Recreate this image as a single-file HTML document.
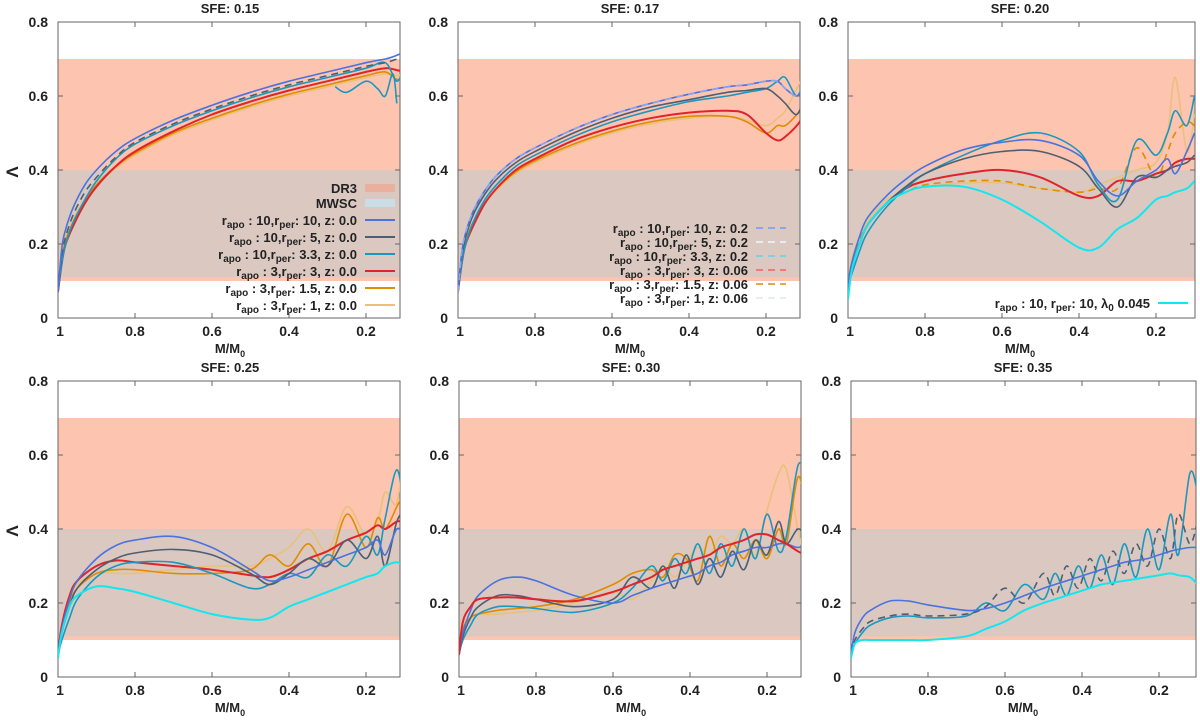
<!DOCTYPE html>
<html><head><meta charset="utf-8">
<style>
body{margin:0;background:#fff;}
svg{display:block;font-family:"Liberation Sans",sans-serif;}
</style></head>
<body>
<svg id="c" width="1200" height="724" xmlns="http://www.w3.org/2000/svg"></svg>
<script>
const titles=["SFE: 0.15","SFE: 0.17","SFE: 0.20","SFE: 0.25","SFE: 0.30","SFE: 0.35"];
const yTicks=[0,0.2,0.4,0.6,0.8];
const yTickLabels=["0","0.2","0.4","0.6","0.8"];
const xTicks=[1,0.8,0.6,0.4,0.2];
const xTickLabels=["1","0.8","0.6","0.4","0.2"];
const bandDR3=[0.1,0.7];
const bandMWSC=[0.11,0.4];
const colors={blue:"#4a72e0",slate:"#4d5f72",teal:"#1a98c0",red:"#e0242a",orange:"#e08c00",lorange:"#e9c17a",cyan:"#12e6ee",dblue:"#8aa6f0",dteal:"#7fd0e6",dred:"#f07a7a",dorange:"#e8a64a",dlight:"#e6eef4"};
// panel 1 (SFE 0.15)
const xs1=[1,0.99,0.98,0.96,0.93,0.9,0.85,0.8,0.7,0.6,0.5,0.4,0.3,0.2,0.15,0.12,0.1];
const p1_blue=[0.07,0.19,0.24,0.30,0.36,0.40,0.45,0.485,0.535,0.575,0.61,0.64,0.665,0.69,0.70,0.71,0.72];
const p1_slate=[0.07,0.17,0.22,0.28,0.34,0.38,0.435,0.475,0.525,0.565,0.60,0.63,0.655,0.68,0.69,0.70,0.71];
const p1_teal=[0.07,0.15,0.20,0.26,0.32,0.37,0.43,0.47,0.52,0.56,0.595,0.625,0.65,0.675,0.69,0.64,0.68];
const p1_red=[0.07,0.15,0.20,0.25,0.31,0.355,0.41,0.45,0.505,0.55,0.585,0.615,0.64,0.665,0.675,0.67,0.665];
const p1_orange=[0.07,0.16,0.21,0.26,0.315,0.36,0.41,0.445,0.50,0.54,0.575,0.605,0.63,0.655,0.665,0.645,0.65];
const p1_lorange=[0.07,0.17,0.22,0.27,0.32,0.36,0.405,0.44,0.495,0.535,0.57,0.60,0.625,0.65,0.66,0.655,0.66];
const p1_tealx=[0.28,0.25,0.2,0.17,0.15,0.13,0.12];
const p1_tealy=[0.625,0.61,0.64,0.62,0.60,0.66,0.58];
// panel 2 (SFE 0.17)
const xs2=[1,0.99,0.98,0.96,0.93,0.9,0.85,0.8,0.7,0.6,0.5,0.4,0.3,0.25,0.2,0.17,0.15,0.12,0.1];
const p2_blue=[0.07,0.18,0.23,0.29,0.345,0.385,0.43,0.46,0.51,0.55,0.58,0.605,0.625,0.63,0.64,0.64,0.62,0.60,0.63];
const p2_slate=[0.07,0.17,0.22,0.28,0.335,0.375,0.42,0.45,0.50,0.54,0.57,0.59,0.61,0.615,0.62,0.60,0.58,0.55,0.60];
const p2_teal=[0.07,0.15,0.20,0.26,0.32,0.36,0.41,0.44,0.49,0.53,0.56,0.585,0.60,0.61,0.62,0.64,0.65,0.60,0.65];
const p2_red=[0.07,0.15,0.20,0.25,0.31,0.35,0.40,0.43,0.48,0.515,0.54,0.555,0.56,0.55,0.50,0.48,0.49,0.52,0.55];
const p2_orange=[0.07,0.16,0.21,0.26,0.31,0.35,0.395,0.425,0.47,0.505,0.53,0.545,0.545,0.53,0.50,0.52,0.52,0.55,0.58];
const p2_lorange=[0.07,0.16,0.21,0.26,0.31,0.345,0.39,0.42,0.465,0.50,0.525,0.54,0.545,0.535,0.52,0.54,0.56,0.62,0.66];
// panel 3 (SFE 0.20)
const xs3=[1,0.99,0.97,0.95,0.9,0.85,0.8,0.7,0.6,0.5,0.4,0.35,0.3,0.25,0.2,0.17,0.15,0.12,0.1];
const p3_blue=[0.09,0.15,0.22,0.27,0.33,0.375,0.41,0.455,0.475,0.48,0.44,0.37,0.33,0.37,0.40,0.43,0.39,0.45,0.50];
const p3_slate=[0.09,0.14,0.20,0.25,0.31,0.355,0.39,0.43,0.45,0.45,0.41,0.35,0.30,0.38,0.38,0.40,0.41,0.42,0.44];
const p3_teal=[0.09,0.12,0.18,0.23,0.30,0.35,0.39,0.44,0.48,0.50,0.45,0.36,0.32,0.48,0.44,0.50,0.56,0.52,0.60];
const p3_red=[0.09,0.14,0.20,0.25,0.31,0.35,0.37,0.39,0.40,0.38,0.33,0.33,0.37,0.37,0.39,0.40,0.42,0.43,0.43];
const p3_orange=[0.09,0.15,0.21,0.25,0.31,0.34,0.36,0.37,0.37,0.35,0.34,0.35,0.35,0.46,0.38,0.45,0.50,0.53,0.52];
const p3_lorange=[0.09,0.16,0.22,0.26,0.32,0.34,0.355,0.365,0.365,0.35,0.34,0.36,0.38,0.40,0.42,0.50,0.65,0.45,0.55];
const p3_cyan=[0.05,0.13,0.20,0.25,0.31,0.34,0.355,0.355,0.32,0.26,0.19,0.19,0.24,0.27,0.32,0.33,0.34,0.35,0.37];
// panel 4 (SFE 0.25)
const xs4=[1,0.99,0.97,0.95,0.9,0.85,0.8,0.7,0.6,0.5,0.45,0.4,0.35,0.3,0.25,0.2,0.17,0.15,0.12,0.1];
const p4_blue=[0.06,0.13,0.21,0.26,0.32,0.355,0.37,0.38,0.35,0.29,0.26,0.27,0.29,0.31,0.33,0.35,0.37,0.33,0.40,0.38];
const p4_slate=[0.06,0.12,0.19,0.24,0.29,0.32,0.335,0.345,0.33,0.28,0.25,0.28,0.32,0.30,0.37,0.32,0.38,0.30,0.42,0.45];
const p4_teal=[0.06,0.10,0.16,0.21,0.27,0.30,0.31,0.31,0.28,0.24,0.25,0.28,0.27,0.33,0.30,0.38,0.33,0.43,0.56,0.45];
const p4_red=[0.06,0.14,0.22,0.26,0.30,0.315,0.31,0.30,0.29,0.275,0.27,0.29,0.32,0.34,0.37,0.39,0.41,0.40,0.42,0.42];
const p4_orange=[0.06,0.13,0.20,0.24,0.28,0.29,0.29,0.28,0.28,0.29,0.33,0.30,0.36,0.30,0.44,0.35,0.43,0.40,0.46,0.50];
const p4_lorange=[0.06,0.14,0.21,0.25,0.28,0.28,0.28,0.29,0.30,0.30,0.32,0.35,0.40,0.34,0.46,0.38,0.42,0.50,0.47,0.63];
const p4_cyan=[0.05,0.12,0.19,0.22,0.245,0.24,0.23,0.20,0.17,0.155,0.16,0.19,0.21,0.23,0.25,0.27,0.28,0.30,0.31,0.30];
// panel 5 (SFE 0.30)
const xs5=[1,0.99,0.97,0.95,0.9,0.85,0.8,0.7,0.6,0.55,0.5,0.47,0.44,0.41,0.38,0.35,0.32,0.29,0.26,0.23,0.2,0.17,0.15,0.12,0.1];
const p5_blue=[0.06,0.12,0.18,0.22,0.26,0.27,0.26,0.22,0.20,0.22,0.24,0.25,0.26,0.27,0.28,0.30,0.31,0.33,0.34,0.35,0.35,0.36,0.36,0.35,0.36];
const p5_slate=[0.06,0.11,0.16,0.19,0.22,0.22,0.21,0.19,0.21,0.27,0.24,0.30,0.24,0.33,0.25,0.32,0.27,0.34,0.29,0.37,0.33,0.42,0.36,0.40,0.38];
const p5_teal=[0.06,0.10,0.14,0.17,0.19,0.19,0.185,0.175,0.20,0.24,0.30,0.26,0.32,0.28,0.36,0.28,0.36,0.30,0.40,0.32,0.44,0.34,0.38,0.57,0.55];
const p5_red=[0.06,0.15,0.19,0.21,0.215,0.215,0.21,0.205,0.23,0.25,0.27,0.29,0.30,0.31,0.32,0.33,0.35,0.36,0.37,0.385,0.385,0.37,0.36,0.34,0.33];
const p5_orange=[0.06,0.13,0.16,0.17,0.18,0.185,0.19,0.21,0.25,0.28,0.29,0.27,0.33,0.32,0.26,0.38,0.30,0.36,0.32,0.37,0.32,0.40,0.36,0.54,0.46];
const p5_lorange=[0.06,0.14,0.16,0.17,0.17,0.175,0.18,0.20,0.23,0.21,0.26,0.30,0.27,0.31,0.35,0.33,0.38,0.36,0.40,0.33,0.45,0.55,0.56,0.40,0.32];
// panel 6 (SFE 0.35)
const xs6=[1,0.99,0.97,0.95,0.9,0.85,0.8,0.7,0.65,0.6,0.55,0.5,0.47,0.44,0.41,0.38,0.35,0.32,0.29,0.26,0.23,0.2,0.17,0.15,0.12,0.1];
const p6_blue=[0.06,0.12,0.16,0.18,0.205,0.205,0.195,0.18,0.185,0.20,0.22,0.24,0.25,0.26,0.27,0.28,0.29,0.30,0.31,0.315,0.32,0.33,0.34,0.345,0.35,0.35];
const p6_slate=[0.06,0.10,0.13,0.15,0.165,0.17,0.165,0.17,0.19,0.24,0.20,0.28,0.22,0.30,0.24,0.32,0.26,0.34,0.28,0.36,0.30,0.40,0.32,0.44,0.36,0.42];
const p6_teal=[0.06,0.09,0.12,0.14,0.16,0.165,0.16,0.165,0.20,0.18,0.25,0.21,0.28,0.22,0.30,0.24,0.33,0.25,0.36,0.27,0.40,0.29,0.44,0.33,0.55,0.50];
const p6_cyan=[0.05,0.09,0.10,0.10,0.10,0.10,0.10,0.11,0.13,0.15,0.18,0.20,0.21,0.22,0.23,0.24,0.25,0.255,0.26,0.265,0.27,0.275,0.28,0.275,0.27,0.25];

const panels=[
 {left:58,top:22,w:342,series:[[xs1,p1_lorange,"lorange",0],[xs1,p1_orange,"orange",0],[xs1,p1_red,"red",0],[xs1,p1_teal,"teal",0],[xs1,p1_slate,"slate",1],[xs1,p1_blue,"blue",0],[p1_tealx,p1_tealy,"teal",0]]},
 {left:458,top:22,w:342,series:[[xs2,p2_lorange,"lorange",0],[xs2,p2_orange,"orange",0],[xs2,p2_red,"red",0],[xs2,p2_teal,"teal",0],[xs2,p2_slate,"slate",0],[xs2,p2_blue,"blue",0],[xs2,p2_blue,"dblue",1]]},
 {left:848,top:22,w:347,series:[[xs3,p3_lorange,"lorange",0],[xs3,p3_orange,"orange",1],[xs3,p3_red,"red",0],[xs3,p3_teal,"teal",0],[xs3,p3_slate,"slate",0],[xs3,p3_blue,"blue",0],[xs3,p3_cyan,"cyan",0]]},
 {left:58,top:381,w:342,series:[[xs4,p4_lorange,"lorange",0],[xs4,p4_orange,"orange",0],[xs4,p4_red,"red",0],[xs4,p4_teal,"teal",0],[xs4,p4_slate,"slate",0],[xs4,p4_blue,"blue",0],[xs4,p4_cyan,"cyan",0]]},
 {left:459,top:381,w:342,series:[[xs5,p5_lorange,"lorange",0],[xs5,p5_orange,"orange",0],[xs5,p5_teal,"teal",0],[xs5,p5_slate,"slate",0],[xs5,p5_blue,"blue",0],[xs5,p5_red,"red",0]]},
 {left:851,top:381,w:345,series:[[xs6,p6_teal,"teal",0],[xs6,p6_slate,"slate",1],[xs6,p6_blue,"blue",0],[xs6,p6_cyan,"cyan",0]]}
];
const NS="http://www.w3.org/2000/svg";
const svg=document.getElementById("c");
function mk(tag,attrs,parent){const e=document.createElementNS(NS,tag);for(const k in attrs)e.setAttribute(k,attrs[k]);(parent||svg).appendChild(e);return e;}
function smooth(pts){let d="M"+pts[0][0]+","+pts[0][1];for(let i=0;i<pts.length-1;i++){const p0=pts[Math.max(0,i-1)],p1=pts[i],p2=pts[i+1],p3=pts[Math.min(pts.length-1,i+2)];
 d+=" C"+(p1[0]+(p2[0]-p0[0])/6).toFixed(1)+","+(p1[1]+(p2[1]-p0[1])/6).toFixed(1)+" "+(p2[0]-(p3[0]-p1[0])/6).toFixed(1)+","+(p2[1]-(p3[1]-p1[1])/6).toFixed(1)+" "+p2[0].toFixed(1)+","+p2[1].toFixed(1);}return d;}
panels.forEach((p,i)=>{
 const g=mk("g",{});
 
 
 const H=296, xpx=v=>p.left+(1-v)*385, ypx=v=>p.top+H-v*370;
 const cp="cp"+i; const c=mk("clipPath",{id:cp},g); mk("rect",{x:p.left,y:p.top,width:p.w,height:H},c);
 const b1=mk("rect",{x:p.left,y:ypx(bandDR3[1]),width:p.w,height:ypx(bandDR3[0])-ypx(bandDR3[1]),fill:"#fdc4b0"},g);
 
 
 const b2=mk("rect",{x:p.left,y:ypx(bandMWSC[1]),width:p.w,height:ypx(bandMWSC[0])-ypx(bandMWSC[1]),fill:"#dbc9c1"},g);
 
 
 const fr=mk("rect",{x:p.left,y:p.top,width:p.w,height:H,fill:"none",stroke:"#666","stroke-width":1},g);
 
 
 yTicks.forEach((t,k)=>{const y=ypx(t);mk("line",{x1:p.left,x2:p.left+5,y1:y,y2:y,stroke:"#666"},g);mk("line",{x1:p.left+p.w-5,x2:p.left+p.w,y1:y,y2:y,stroke:"#666"},g);
  const tx=mk("text",{x:p.left-10,y:y+5,"text-anchor":"end","font-size":14,"font-weight":"bold",fill:"#222"},g);tx.textContent=yTickLabels[k];
  
  });
 xTicks.forEach((t,k)=>{const x=xpx(t);mk("line",{x1:x,x2:x,y1:p.top+H,y2:p.top+H-5,stroke:"#666"},g);mk("line",{x1:x,x2:x,y1:p.top,y2:p.top+5,stroke:"#666"},g);
  const tx=mk("text",{x:x+(k==0?2:0),y:p.top+H+18,"text-anchor":"middle","font-size":14,"font-weight":"bold",fill:"#222"},g);tx.textContent=xTickLabels[k];
  
  });
 const tt=mk("text",{x:p.left+172,y:p.top-9,"text-anchor":"middle","font-size":13,"font-weight":"bold",fill:"#222"},g);tt.textContent=titles[i];
 
 
 const xl=mk("text",{x:p.left+172,y:p.top+H+35,"text-anchor":"middle","font-size":13,"font-weight":"bold",fill:"#222"},g);
 xl.innerHTML='M/M<tspan font-size="9" dy="4">0</tspan>';
 
 
 if(p.left<100){const yl=mk("text",{x:18,y:p.top+150,"text-anchor":"middle","font-size":17,"font-weight":"bold",fill:"#222",transform:"rotate(-90 18 "+(p.top+150)+")"},g);yl.textContent="Λ";
  
  }
 const lg=mk("g",{"clip-path":"url(#"+cp+")"},g);
 p.series.forEach(s=>{const pts=s[0].map((x,j)=>[xpx(x),ypx(s[1][j])]);
  const path=mk("path",{d:smooth(pts),fill:"none",stroke:colors[s[2]],"stroke-width":s[2]=="red"||s[2]=="cyan"?2:1.6,"stroke-dasharray":s[3]?"7,5":"none"},lg);
  
  });
});
// legends
function legRow(x,y,html,color,dash,name,band){
 const t=mk("text",{x:x,y:y+5,"text-anchor":"end","font-size":13,"font-weight":"bold",fill:"#222"});t.innerHTML=html;
 
 
 if(band){mk("rect",{x:x+8,y:y-4,width:30,height:8,fill:color});}
 else mk("line",{x1:x+8,x2:x+38,y1:y,y2:y,stroke:color,"stroke-width":2,"stroke-dasharray":dash?"7,5":"none"});
}
const sub=s=>'<tspan font-size="10" dy="3">'+s+'</tspan><tspan dy="-3">';
legRow(357,188,"DR3","#e9b0a0",0,"legend-dr3",1);
legRow(357,203,"MWSC","#c9dde6",0,"legend-mwsc",1);
const l1=[["10,","10, z: 0.0","blue"],["10,","5, z: 0.0","slate"],["10,","3.3, z: 0.0","teal"],["3,","3, z: 0.0","red"],["3,","1.5, z: 0.0","orange"],["3,","1, z: 0.0","lorange"]];
l1.forEach((r,k)=>legRow(357,220+k*17,"r"+sub("apo")+" : "+r[0]+"r</tspan>"+sub("per")+": "+r[1]+"</tspan>",colors[r[2]],0,"legend-entry"));
const l2=[["10,","10, z: 0.2","dblue"],["10,","5, z: 0.2","dlight"],["10,","3.3, z: 0.2","dteal"],["3,","3, z: 0.06","dred"],["3,","1.5, z: 0.06","dorange"],["3,","1, z: 0.06","dlight"]];
l2.forEach((r,k)=>legRow(748,228+k*14,"r"+sub("apo")+" : "+r[0]+"r</tspan>"+sub("per")+": "+r[1]+"</tspan>",colors[r[2]],1,"legend-entry"));
legRow(1150,303,"r"+sub("apo")+" : 10, r</tspan>"+sub("per")+": 10, λ</tspan>"+sub("0")+" 0.045</tspan>",colors.cyan,0,"legend-entry");
</script>
</body></html>
